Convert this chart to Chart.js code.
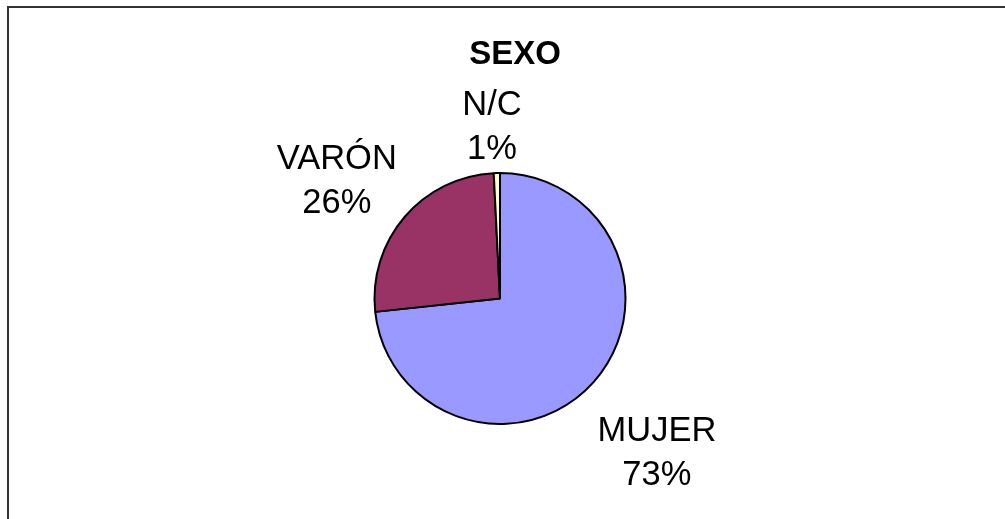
<!DOCTYPE html>
<html>
<head>
<meta charset="utf-8">
<script src="https://cdn.jsdelivr.net/npm/chart.js@4"></script>
<style>
  html, body { margin: 0; padding: 0; background: #fff; }
  #wrap { width: 1005px; height: 519px; position: relative; }
</style>
</head>
<body>
<div id="wrap"><canvas id="sexoChart"></canvas></div>
<script>
// ===== DATA =====
const chartTitle = 'SEXO';
const categories = ['MUJER', 'VARÓN', 'N/C'];
const shares = [73.3, 25.9, 0.8];
const sliceColors = ['#9999FF', '#993366', '#FFFFCC'];
// label block placement: distance from pie centre (px) and small angle nudge (deg)
const labelDistance = [219, 202, 174];
const labelNudge = [2.3, -4.4, -1.2];

const fontFamily = '"Liberation Sans", Arial, sans-serif';

// frame, title and outside labels
const decorPlugin = {
  id: 'decor',
  beforeDraw(chart) {
    const ctx = chart.ctx;
    ctx.save();
    ctx.strokeStyle = '#333';
    ctx.lineWidth = 2;
    ctx.beginPath();
    ctx.moveTo(8, chart.height);
    ctx.lineTo(8, 7);
    ctx.lineTo(chart.width, 7);
    ctx.stroke();
    ctx.restore();
  },
  afterDraw(chart) {
    const ctx = chart.ctx;
    const meta = chart.getDatasetMeta(0);
    const data = chart.data.datasets[0].data;
    const total = data.reduce((a, b) => a + b, 0);

    ctx.save();
    ctx.fillStyle = '#000';
    ctx.textAlign = 'center';
    ctx.textBaseline = 'alphabetic';

    // title
    ctx.font = 'bold 33px ' + fontFamily;
    ctx.fillText(chartTitle, 515, 64);

    // labels
    ctx.font = '34.5px ' + fontFamily;
    meta.data.forEach((arc, i) => {
      const mid = (arc.startAngle + arc.endAngle) / 2 + labelNudge[i] * Math.PI / 180;
      const cx = arc.x + Math.cos(mid) * labelDistance[i];
      const cy = arc.y + Math.sin(mid) * labelDistance[i];
      const pct = Math.round(data[i] / total * 100) + '%';
      ctx.fillText(chart.data.labels[i], cx, cy - 10);
      ctx.fillText(pct, cx, cy + 34);
    });
    ctx.restore();
  }
};

new Chart(document.getElementById('sexoChart'), {
  type: 'pie',
  data: {
    labels: categories,
    datasets: [{
      data: shares,
      backgroundColor: sliceColors,
      borderColor: '#000',
      borderWidth: 2
    }]
  },
  options: {
    responsive: true,
    maintainAspectRatio: false,
    animation: false,
    layout: { padding: { top: 172, bottom: 94, left: 0, right: 5 } },
    plugins: {
      legend: { display: false },
      title: { display: false },
      tooltip: { enabled: false }
    }
  },
  plugins: [decorPlugin]
});
</script>
</body>
</html>
